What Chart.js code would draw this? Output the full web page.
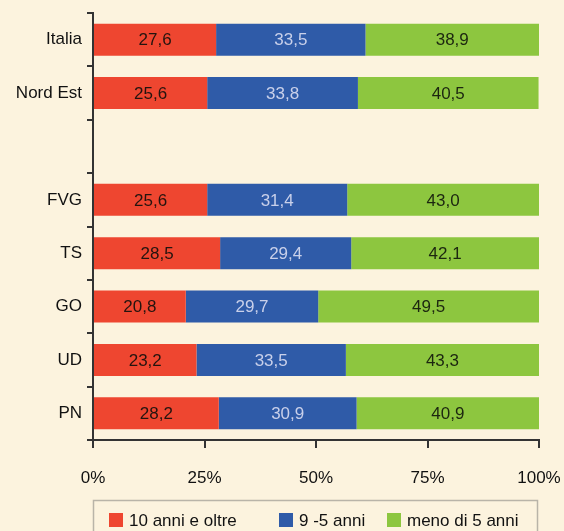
<!DOCTYPE html>
<html>
<head>
<meta charset="utf-8">
<script src="https://cdn.jsdelivr.net/npm/chart.js@4.4.1/dist/chart.umd.min.js"></script>
<style>
  html, body { margin: 0; padding: 0; background: #fcf3de; }
  #wrap { width: 564px; height: 531px; position: relative; }
</style>
</head>
<body>
<div id="wrap"><canvas id="report_chart" width="564" height="531"></canvas></div>
<script>
var categories = ['Italia', 'Nord Est', '', 'FVG', 'TS', 'GO', 'UD', 'PN'];
var oltre10 = [27.6, 25.6, null, 25.6, 28.5, 20.8, 23.2, 28.2];
var da9a5 = [33.5, 33.8, null, 31.4, 29.4, 29.7, 33.5, 30.9];
var meno5 = [38.9, 40.5, null, 43.0, 42.1, 49.5, 43.3, 40.9];
var seriesNames = ['10 anni e oltre', '9 -5 anni', 'meno di 5 anni'];
var tickLabels = ['0%', '25%', '50%', '75%', '100%'];

var FONT = '"Liberation Sans", Arial, sans-serif';
var colors = ['#ee4630', '#2f5ba8', '#8dc63f'];
var labelColors = ['#24140f', '#c9d0ea', '#1c2610'];

// numbers inside the bars
var valueLabels = {
  id: 'valueLabels',
  afterDatasetsDraw: function(chart) {
    var ctx = chart.ctx;
    ctx.save();
    ctx.font = '17px ' + FONT;
    ctx.textAlign = 'center';
    ctx.textBaseline = 'middle';
    chart.data.datasets.forEach(function(ds, i) {
      var meta = chart.getDatasetMeta(i);
      meta.data.forEach(function(bar, j) {
        var v = ds.data[j];
        if (v === null) return;
        var p = bar.getCenterPoint();
        ctx.fillStyle = labelColors[i];
        ctx.fillText(v.toFixed(1).replace('.', ','), p.x, p.y + 1);
      });
    });
    ctx.restore();
  }
};

// boxed legend at the bottom
var boxLegend = {
  id: 'boxLegend',
  afterDraw: function(chart) {
    var ctx = chart.ctx;
    var xs = [109, 279, 387];
    ctx.save();
    ctx.strokeStyle = '#b9b4a8';
    ctx.lineWidth = 1.5;
    ctx.strokeRect(93.5, 500.5, 444, 40);
    ctx.font = '17px ' + FONT;
    ctx.textBaseline = 'middle';
    ctx.textAlign = 'left';
    for (var i = 0; i < seriesNames.length; i++) {
      ctx.fillStyle = colors[i];
      ctx.fillRect(xs[i], 513, 14, 14);
      ctx.fillStyle = '#111';
      ctx.fillText(seriesNames[i], xs[i] + 20, 521);
    }
    ctx.restore();
  }
};

var chartdata = {
  labels: categories,
  datasets: [
    { label: seriesNames[0], data: oltre10, backgroundColor: colors[0] },
    { label: seriesNames[1], data: da9a5, backgroundColor: colors[1] },
    { label: seriesNames[2], data: meno5, backgroundColor: colors[2] }
  ]
};

var ctx = document.getElementById('report_chart');

var barGraph = new Chart(ctx, {
  type: 'bar',
  data: chartdata,
  plugins: [valueLabels, boxLegend],
  options: {
    indexAxis: 'y',
    responsive: false,
    animation: false,
    layout: { padding: { top: 13, right: 25, bottom: 0, left: 0 } },
    datasets: { bar: { barPercentage: 0.6, categoryPercentage: 1 } },
    plugins: {
      legend: { display: false },
      tooltip: { enabled: false }
    },
    scales: {
      x: {
        stacked: true,
        min: 0,
        max: 100,
        afterFit: function(s) { s.height = 91; s.paddingLeft = 0; s.paddingRight = 0; },
        afterBuildTicks: function(s) {
          s.ticks = tickLabels.map(function(t) { return { value: parseFloat(t) }; });
        },
        ticks: {
          padding: 20,
          color: '#111',
          font: { family: FONT, size: 17 },
          callback: function(v) { return v + '%'; }
        },
        grid: { drawOnChartArea: false, tickLength: 8, color: '#333', lineWidth: 2 },
        border: { color: '#333', width: 2 }
      },
      y: {
        stacked: true,
        afterFit: function(s) { s.width = 93; s.paddingTop = 0; s.paddingBottom = 0; },
        ticks: {
          padding: 5,
          color: '#111',
          font: { family: FONT, size: 17 }
        },
        grid: { drawOnChartArea: false, offset: true, tickLength: 6, color: '#333', lineWidth: 2 },
        border: { color: '#333', width: 2 }
      }
    }
  }
});
</script>
</body>
</html>
